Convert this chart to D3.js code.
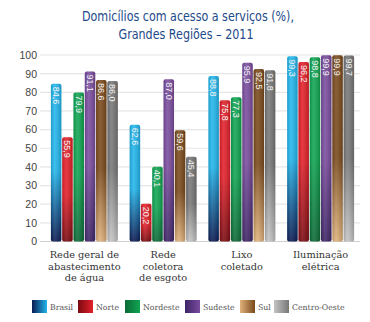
<!DOCTYPE html>
<html>
<head>
<meta charset="utf-8">
<script src="https://cdn.jsdelivr.net/npm/d3@7"></script>
<style>
  body { margin: 0; background: #fff; }
  svg { display: block; }
</style>
</head>
<body>
<svg id="chart" width="370" height="322"></svg>
<script>
// data
const categories = [
  ["Rede geral de", "abastecimento", "de água"],
  ["Rede", "coletora", "de esgoto"],
  ["Lixo", "coletado"],
  ["Iluminação", "elétrica"]
];
const regions = ["Brasil", "Norte", "Nordeste", "Sudeste", "Sul", "Centro-Oeste"];
const brasil   = [84.6, 62.6, 88.8, 99.3];
const norte    = [55.9, 20.2, 75.8, 96.2];
const nordeste = [79.9, 40.1, 77.3, 98.8];
const sudeste  = [91.1, 87.0, 95.9, 99.9];
const sul      = [86.6, 59.6, 92.5, 99.9];
const centro   = [86.0, 45.4, 91.8, 99.7];
const yTicks = [0, 10, 20, 30, 40, 50, 60, 70, 80, 90, 100];

const series = [brasil, norte, nordeste, sudeste, sul, centro];

// colours: top, bottom
const colors = [
  ["#22b6ec", "#0a1a52"],
  ["#e3202a", "#7a0a10"],
  ["#10a552", "#0b6a36"],
  ["#7a4c9e", "#3e2466"],
  ["#7a4a1c", "#e0b27a"],
  ["#777777", "#c4c4c4"]
];

const svg = d3.select("#chart");
const defs = svg.append("defs");

colors.forEach((c, i) => {
  const g = defs.append("linearGradient")
    .attr("id", "grad" + i)
    .attr("x1", 0).attr("y1", 0).attr("x2", 0).attr("y2", 1);
  g.append("stop").attr("offset", "0%").attr("stop-color", c[0]);
  g.append("stop").attr("offset", "55%").attr("stop-color", c[0]);
  g.append("stop").attr("offset", "100%").attr("stop-color", c[1]);
  // legend swatch goes left to right
  const h = defs.append("linearGradient")
    .attr("id", "hgrad" + i)
    .attr("x1", 0).attr("y1", 0).attr("x2", 1).attr("y2", 0);
  h.append("stop").attr("offset", "0%").attr("stop-color", c[1]);
  h.append("stop").attr("offset", "100%").attr("stop-color", c[0]);
});
// cylinder shading
const shade = defs.append("linearGradient").attr("id", "shade")
  .attr("x1", 0).attr("y1", 0).attr("x2", 1).attr("y2", 0);
shade.append("stop").attr("offset", "0%").attr("stop-color", "#000").attr("stop-opacity", 0.15);
shade.append("stop").attr("offset", "35%").attr("stop-color", "#fff").attr("stop-opacity", 0.12);
shade.append("stop").attr("offset", "100%").attr("stop-color", "#000").attr("stop-opacity", 0.18);

// title
svg.append("text")
  .attr("x", 188).attr("y", 21)
  .attr("text-anchor", "middle")
  .attr("font-family", "'DejaVu Sans Condensed', 'DejaVu Sans', sans-serif")
  .attr("font-size", 14)
  .attr("textLength", 212)
  .attr("lengthAdjust", "spacingAndGlyphs")
  .attr("fill", "#1d4a8a")
  .text("Domicílios com acesso a serviços (%),");
svg.append("text")
  .attr("x", 186).attr("y", 39)
  .attr("text-anchor", "middle")
  .attr("font-family", "'DejaVu Sans Condensed', 'DejaVu Sans', sans-serif")
  .attr("font-size", 14)
  .attr("textLength", 135)
  .attr("lengthAdjust", "spacingAndGlyphs")
  .attr("fill", "#1d4a8a")
  .text("Grandes Regiões – 2011");

// scales
const y = d3.scaleLinear().domain([0, 100]).range([241.5, 55]);
const x0 = d3.scaleBand().domain(d3.range(categories.length))
  .range([45, 360]).paddingInner(0.15).paddingOuter(0.075);
const x1 = d3.scaleBand().domain(d3.range(regions.length))
  .range([0, x0.bandwidth()]).paddingInner(0.07);

// grid
svg.append("g")
  .selectAll("line")
  .data(yTicks)
  .join("line")
  .attr("x1", 40).attr("x2", 360)
  .attr("y1", d => y(d)).attr("y2", d => y(d))
  .attr("stroke", d => d === 0 ? "#cfcfcf" : "#e6e6e6")
  .attr("stroke-width", 1.2);

// y axis
const yAxis = svg.append("g")
  .attr("transform", "translate(37,0)")
  .call(d3.axisLeft(y).tickValues(yTicks).tickSize(0).tickPadding(0));
yAxis.select(".domain").remove();
yAxis.selectAll("text")
  .attr("font-family", "'Liberation Sans', Arial, sans-serif")
  .attr("font-size", 10.5)
  .attr("fill", "#444");

// bars
const groups = svg.append("g")
  .selectAll("g")
  .data(categories)
  .join("g")
  .attr("transform", (d, i) => `translate(${x0(i)},0)`);

groups.each(function (cat, ci) {
  const g = d3.select(this);
  const vals = series.map((s, si) => ({ v: s[ci], si }));
  g.selectAll("rect.bar")
    .data(vals)
    .join("rect")
    .attr("class", "bar")
    .attr("x", d => x1(d.si))
    .attr("y", d => y(d.v))
    .attr("width", x1.bandwidth())
    .attr("height", d => y(0) - y(d.v))
    .attr("rx", 2)
    .attr("fill", d => `url(#grad${d.si})`);
  g.selectAll("rect.shade")
    .data(vals)
    .join("rect")
    .attr("class", "shade")
    .attr("x", d => x1(d.si))
    .attr("y", d => y(d.v))
    .attr("width", x1.bandwidth())
    .attr("height", d => y(0) - y(d.v))
    .attr("rx", 2)
    .attr("fill", "url(#shade)");
  g.selectAll("text")
    .data(vals)
    .join("text")
    .attr("transform", d => `translate(${x1(d.si) + x1.bandwidth() / 2},${y(d.v) + 3}) rotate(90)`)
    .attr("dy", "0.35em")
    .attr("font-family", "'Liberation Sans', Arial, sans-serif")
    .attr("font-size", 9)
    .attr("fill", "#f4f4f4")
    .text(d => d.v.toFixed(1).replace(".", ","));
});

// category labels
svg.append("g")
  .selectAll("text")
  .data(categories)
  .join("text")
  .attr("x", (d, i) => x0(i) + x0.bandwidth() / 2)
  .attr("y", 258)
  .attr("text-anchor", "middle")
  .attr("font-family", "'DejaVu Serif', serif")
  .attr("font-size", 9.8)
  .attr("fill", "#333")
  .selectAll("tspan")
  .data(d => d)
  .join("tspan")
  .attr("x", function () { return this.parentNode.getAttribute("x"); })
  .attr("dy", (d, i) => i === 0 ? 0 : 11.5)
  .text(d => d);

// legend
const legendX = [32, 78, 125, 185, 240, 274];
const legend = svg.append("g")
  .selectAll("g")
  .data(regions)
  .join("g")
  .attr("transform", (d, i) => `translate(${legendX[i]},300)`);
legend.append("rect")
  .attr("width", 15).attr("height", 13)
  .attr("fill", (d, i) => `url(#hgrad${i})`);
legend.append("text")
  .attr("x", 18).attr("y", 10)
  .attr("font-family", "'DejaVu Serif', serif")
  .attr("font-size", 7.8)
  .attr("fill", "#555")
  .text(d => d);
</script>
</body>
</html>
